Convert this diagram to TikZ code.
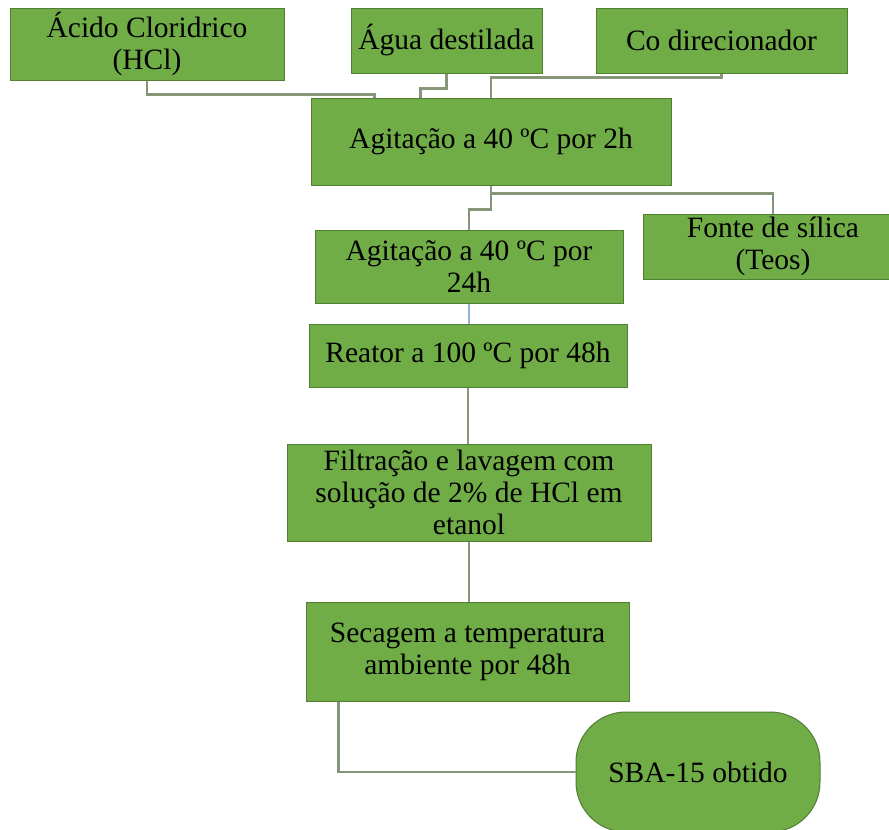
\documentclass[tikz,border=0pt]{standalone}
\usepackage{fontspec}
\setmainfont{Liberation Serif}
\definecolor{boxfill}{HTML}{70AD47}
\definecolor{boxline}{HTML}{507E32}
\definecolor{conn}{RGB}{135,150,120}
\definecolor{connblue}{RGB}{150,178,220}
\begin{document}
\begin{tikzpicture}[x=1pt,y=-1pt,
  stepbox/.style={draw=boxline,fill=boxfill,line width=1pt,align=center,inner sep=1pt,
    font=\fontsize{29.5}{32}\selectfont},
  link/.style={draw=conn,line width=2.5pt},
  bluelink/.style={draw=connblue,line width=2.5pt}]
\clip (0,0) rectangle (889,830);
\fill[white] (0,0) rectangle (889,830);
\node[stepbox,minimum width=274pt,minimum height=72pt] (acido) at (147,44) {Ácido Cloridrico\\(HCl)};
\node[stepbox,minimum width=191pt,minimum height=65pt] (agua) at (446.5,40.5) {Água destilada};
\node[stepbox,minimum width=251pt,minimum height=65pt] (co) at (721.5,40.5) {Co direcionador};
\node[stepbox,minimum width=360pt,minimum height=87pt] (ag2) at (491,141.5) {Agitação a 40 ºC por 2h};
\node[stepbox,minimum width=308pt,minimum height=73pt] (ag24) at (469,266.5) {Agitação a 40 ºC por\\24h};
\node[stepbox,minimum width=260pt,minimum height=65pt] (fonte) at (773,246.5) {Fonte de sílica\\(Teos)};
\node[stepbox,minimum width=318pt,minimum height=63pt] (reator) at (468,355.5) {Reator a 100 ºC por 48h};
\node[stepbox,minimum width=364pt,minimum height=97pt] (filt) at (469,492.5) {Filtração e lavagem com\\solução de 2\% de HCl em\\etanol};
\node[stepbox,minimum width=323pt,minimum height=99pt] (sec) at (467.5,651.5) {Secagem a temperatura\\ambiente por 48h};
\node[stepbox,minimum width=244pt,minimum height=120pt,rounded corners=50pt] (sba) at (698,772) {SBA-15 obtido};
% connectors
\draw[link] (acido.south) -- ++(0,14) -| ([xshift=64pt]ag2.north west);
\draw[link] (agua.south) -- ++(0,15) -| ([xshift=110pt]ag2.north west);
\draw[link] (co.south) -- ++(0,4) -| (ag2.north);
\draw[link] (ag2.south) -- ++(0,8) -| (fonte.north);
\draw[link] (ag2.south) -- ++(0,24) -| (ag24.north);
\draw[bluelink] (ag24.south) -- (ag24.south |- reator.north);
\draw[link] (reator.south) -- (reator.south |- filt.north);
\draw[link] (filt.south) -- (filt.south |- sec.north);
\draw[link] ([xshift=33pt]sec.south west) |- (sba.west);
\end{tikzpicture}
\end{document}
